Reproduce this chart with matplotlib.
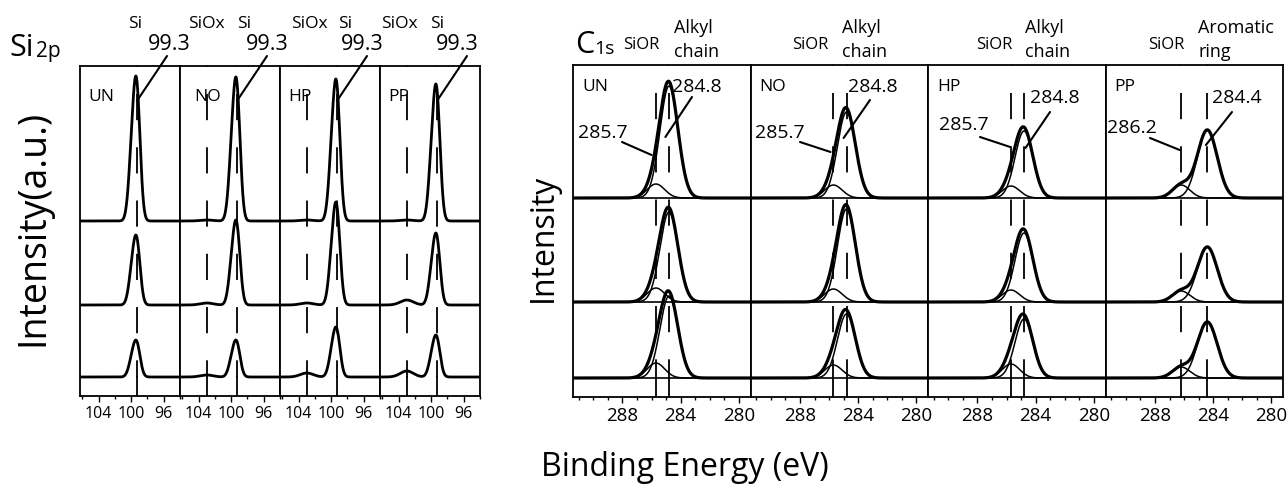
import numpy as np
import matplotlib
matplotlib.use("Agg")
import matplotlib.pyplot as plt
from matplotlib.ticker import MultipleLocator

plt.rcParams['font.family'] = ['Open Sans', 'DejaVu Sans']

## data
samples = ["UN", "NO", "HP", "PP"]
angles = ["90°", "60°", "30°"]

# Si 2p : peak heights per sample, rows 90/60/30 deg
si_pos = 99.3
siox_pos = 103.0
si_height = [[145, 70, 37], [144, 85, 37], [142, 103, 50], [137, 72, 42]]
siox_height = [[0, 0, 0], [1, 2, 2], [1, 2, 4], [1, 5, 6]]
si_sigma = 0.42

# C 1s : main + SiOR components
c_main_pos = [284.8, 284.8, 284.8, 284.4]
c_sior_pos = [285.7, 285.7, 285.7, 286.2]
c_main_height = [[112, 90, 82], [86, 93, 64], [67, 69, 59], [68, 55, 56]]
c_sior_height = [[14, 14, 15], [13, 13, 13], [12, 12, 14], [13, 11, 11]]
c_main_sigma = [0.62, 0.62, 0.62, 0.68]
c_sior_sigma = 0.6
c_main_names = ["Alkyl\nchain", "Alkyl\nchain", "Alkyl\nchain", "Aromatic\nring"]

## layout (pixels)
W, H = 1287, 490
si_x0 = [80, 180, 280, 380]
si_w = 100
si_top, si_bot = 66, 396
si_base = [175, 91, 19]
c_x0 = [573, 750.5, 928, 1105.5]
c_w = 177.5
c_top, c_bot = 65, 397
c_base = [199, 95, 19]

fig = plt.figure(figsize=(W / 100, H / 100), dpi=100)


def rect(x0, y0, w, h):
    return [x0 / W, 1 - (y0 + h) / H, w / W, h / H]


def ftext(x, y, s, size, **kw):
    fig.text(x / W, 1 - y / H, s, fontsize=size, va='center', **kw)


def gauss(x, c, s):
    return np.exp(-0.5 * ((x - c) / s) ** 2)


dash = (14, (14.5, 15))

## Si 2p panel
xs = np.linspace(106.3, 94.0, 700)
for i, name in enumerate(samples):
    ax = fig.add_axes(rect(si_x0[i], si_top, si_w, si_bot - si_top))
    ax.set_xlim(106.3, 94.0)
    ax.set_ylim(0, si_bot - si_top)
    for j in range(3):
        d = gauss(xs, si_pos, si_sigma) + 0.5 * gauss(xs, si_pos + 0.6, si_sigma)
        d = d / d.max()
        y = si_base[j] + si_height[i][j] * d + siox_height[i][j] * gauss(xs, siox_pos, 0.8)
        ax.plot(xs, y, color='black', lw=2.0)
    marks = [si_pos] if i == 0 else [siox_pos, si_pos]
    for p in marks:
        ax.plot([p, p], [si_bot - si_top, si_base[2]], color='black', lw=1.3, ls=dash)
        ax.plot([p, p], [si_base[2], 0], color='black', lw=1.3)
    ax.set_xticks([104, 100, 96])
    ax.xaxis.set_minor_locator(MultipleLocator(2))
    ax.set_yticks([])
    ax.tick_params(axis='x', direction='out', length=4, width=1, labelsize=11.5, pad=3)
    ax.tick_params(axis='x', which='minor', length=2.5, width=1)
    for sp in ax.spines.values():
        sp.set_linewidth(1.3)
    ax.text(0.08 if i != 1 else 0.14, 0.905, name, transform=ax.transAxes,
            fontsize=12.5, va='center', ha='left')
    if i == 0:
        for j, a in enumerate(angles):
            ax.text(0.04, si_base[j] + [18, 13, 15][j], a, fontsize=12.5,
                    va='bottom', ha='left')
    # 99.3 label + leader
    ftext(si_x0[i] + [89, 87, 82, 77][i], 45, "99.3", 15.5, ha='center')
    ax.annotate('', xy=(si_pos, 295), xycoords='data',
                xytext=((si_x0[i] + 87), H - 56), textcoords='figure pixels',
                arrowprops=dict(arrowstyle='-', lw=1.5, color='black',
                                shrinkA=0, shrinkB=0))

# Si top labels
for x, s in [(135.5, "Si"), (206, "SiOx"), (244.5, "Si"), (309, "SiOx"),
             (345.5, "Si"), (399, "SiOx"), (437.5, "Si")]:
    ftext(x, 24, s, 12.5, ha='center')

ftext(9, 48, "Si", 22, ha='left')
ftext(36, 52, "2p", 15, ha='left')
fig.text(33 / W, 1 - 228 / H, "Intensity(a.u.)", fontsize=27, rotation=90,
         ha='center', va='center')

## C 1s panel
xc = np.linspace(291.4, 279.2, 900)
for i, name in enumerate(samples):
    ax = fig.add_axes(rect(c_x0[i], c_top, c_w, c_bot - c_top))
    ax.set_xlim(291.4, 279.2)
    ax.set_ylim(0, c_bot - c_top)
    for j in range(3):
        b = c_base[j]
        main = c_main_height[i][j] * gauss(xc, c_main_pos[i], c_main_sigma[i])
        sior = c_sior_height[i][j] * gauss(xc, c_sior_pos[i], c_sior_sigma)
        ax.axhline(b, color='black', lw=1.2)
        ax.plot(xc, b + sior, color='black', lw=1.1)
        ax.plot(xc, b + main, color='black', lw=1.1)
        ax.plot(xc, b + main + sior, color='black', lw=2.3)
    for p in [c_sior_pos[i], c_main_pos[i]]:
        ax.plot([p, p], [c_bot - c_top, c_base[2]], color='black', lw=1.3, ls=dash)
        ax.plot([p, p], [c_base[2], 0], color='black', lw=1.3)
    ax.set_xticks([288, 284, 280])
    ax.xaxis.set_minor_locator(MultipleLocator(1))
    ax.set_yticks([])
    ax.tick_params(axis='x', direction='out', length=4, width=1, labelsize=13.5, pad=3)
    ax.tick_params(axis='x', which='minor', length=2.5, width=1)
    for sp in ax.spines.values():
        sp.set_linewidth(1.3)
    ax.text(0.05, 0.935, name, transform=ax.transAxes, fontsize=12.5,
            va='center', ha='left')

# C 1s number labels and leaders
c_num = [("284.8", 672, 87), ("284.8", 848, 87), ("284.8", 1030, 98), ("284.4", 1212, 98)]
c_sub = [("285.7", 578, 133), ("285.7", 755, 133), ("285.7", 939, 125), ("286.2", 1107, 128)]
c_lead_main = [(692, 97, 285.05, 260), (870, 100, 285.0, 259),
               (1050, 112, 284.7, 249), (1232, 112, 284.5, 252)]
c_lead_sub = [(622, 142, 286.0, 242), (800, 142, 285.9, 245),
              (980, 137, 285.75, 250), (1150, 138, 286.3, 247)]
axes_c = fig.axes[4:]
for i in range(4):
    s, x, y = c_num[i]
    ftext(x, y, s, 14, ha='left')
    s, x, y = c_sub[i]
    ftext(x, y, s, 14, ha='left')
    for (px, py, ex, ey) in [c_lead_main[i], c_lead_sub[i]]:
        axes_c[i].annotate('', xy=(ex, ey), xycoords='data',
                           xytext=(px, H - py), textcoords='figure pixels',
                           arrowprops=dict(arrowstyle='-', lw=1.5, color='black',
                                           shrinkA=0, shrinkB=0))

for x in [641, 810, 994, 1166]:
    ftext(x, 45, "SiOR", 12, ha='center')
for i, x in enumerate([674, 842, 1025, 1198]):
    top, bot = c_main_names[i].split("\n")
    ftext(x, 28, top, 13, ha='left')
    ftext(x, 52, bot, 13, ha='left')

ftext(575, 45, "C", 22, ha='left')
ftext(594, 49, "1s", 14, ha='left')
fig.text(543 / W, 1 - 238 / H, "Intensity", fontsize=23, rotation=90,
         ha='center', va='center')
ftext(685, 467, "Binding Energy (eV)", 23, ha='center')

fig.savefig("out.png", dpi=100)
